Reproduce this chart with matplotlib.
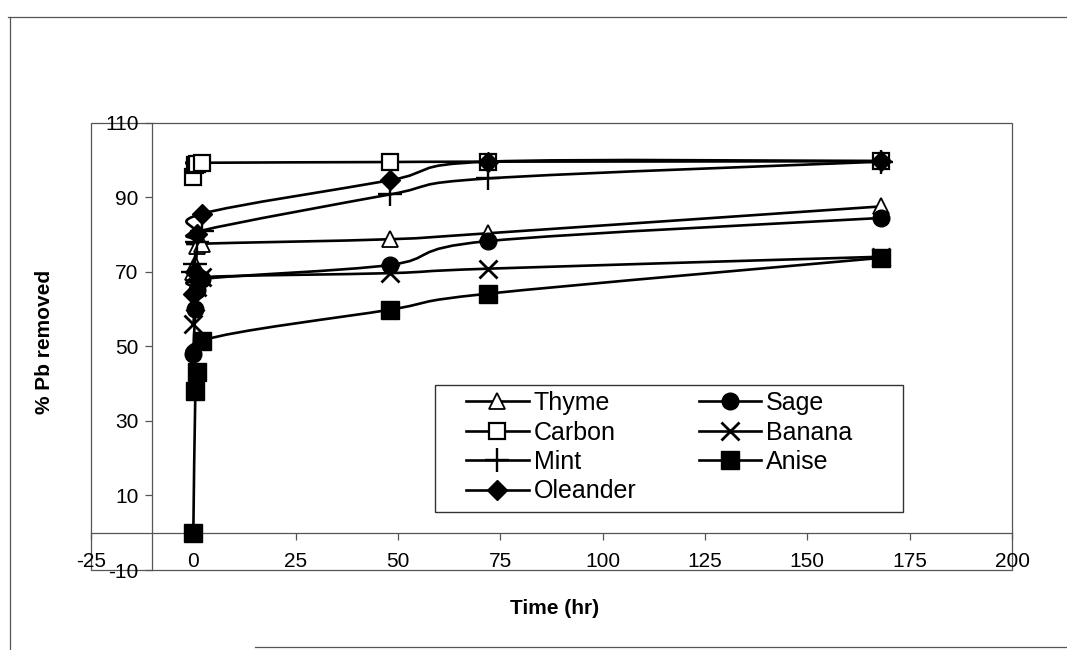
import numpy as np
import matplotlib
matplotlib.use("Agg")
import matplotlib.pyplot as plt
from matplotlib.path import Path
from matplotlib.patches import PathPatch, Rectangle
from matplotlib.lines import Line2D

plt.rcParams['font.family'] = ['Liberation Sans', 'DejaVu Sans']

# ---- data ----
times = [0, 0.5, 1, 2, 48, 72, 168]
thyme = [70, 72, 77, 77.5, 78.7, 80.3, 87.5]
carbon = [95.5, 98.5, 99, 99.2, 99.4, 99.5, 99.6]
mint = [70, 72, 78, 81, 90.7, 95, 99.5]
oleander = [64, 70, 80, 85.5, 94.5, 99.5, 99.7]
sage = [48, 60, 65, 68, 71.8, 78.2, 84.4]
banana = [56, 62, 66, 68.5, 69.6, 70.8, 74]
anise = [0, 38, 43, 51.5, 59.8, 64.1, 73.7]

series_names = ["Thyme", "Carbon", "Mint", "Oleander", "Sage", "Banana", "Anise"]
series_values = [thyme, carbon, mint, oleander, sage, banana, anise]

x_ticks = [-25, 0, 25, 50, 75, 100, 125, 150, 175, 200]
y_ticks = [-10, 10, 30, 50, 70, 90, 110]

# ---- styles ----
styles = {
    "Thyme": dict(marker='^', mfc='white', mec='black', ms=11, mew=1.3),
    "Carbon": dict(marker='s', mfc='white', mec='black', ms=11, mew=1.6),
    "Mint": dict(marker='+', mfc='black', mec='black', ms=17, mew=1.7),
    "Oleander": dict(marker='D', mfc='black', mec='black', ms=10, mew=1),
    "Sage": dict(marker='o', mfc='black', mec='black', ms=12, mew=1),
    "Banana": dict(marker='x', mfc='black', mec='black', ms=13, mew=2),
    "Anise": dict(marker='s', mfc='black', mec='black', ms=12.5, mew=1),
}


def smooth_path(xs, ys):
    pts = np.column_stack([xs, ys]).astype(float)
    n = len(pts)
    verts = [pts[0]]
    codes = [Path.MOVETO]
    for i in range(n - 1):
        p0 = pts[i - 1] if i > 0 else pts[i]
        p1 = pts[i]
        p2 = pts[i + 1]
        p3 = pts[i + 2] if i + 2 < n else pts[i + 1]
        c1 = p1 + (p2 - p0) / 6.0
        c2 = p2 - (p3 - p1) / 6.0
        verts += [c1, c2, p2]
        codes += [Path.CURVE4] * 3
    return Path(verts, codes)


fig = plt.figure(figsize=(10.67, 6.5), dpi=100)
ax = fig.add_axes([91 / 1067, 1 - 570 / 650, (1012 - 91) / 1067, (570 - 122.5) / 650])
ax.set_xlim(-25, 200)
ax.set_ylim(-10, 110)

for name, vals in zip(series_names, series_values):
    patch = PathPatch(smooth_path(times, vals), facecolor='none', edgecolor='black',
                      lw=1.9, zorder=3)
    ax.add_patch(patch)
    ax.plot(times, vals, linestyle='none', zorder=4, **styles[name])

# axes lines: y-axis crosses at x=-10, x-axis crosses at y=0
for s in ['top', 'right']:
    ax.spines[s].set_visible(False)
ax.spines['left'].set_position(('data', -10))
ax.spines['bottom'].set_position(('data', 0))
for s in ['left', 'bottom']:
    ax.spines[s].set_color('#555555')
    ax.spines[s].set_linewidth(0.9)
ax.add_patch(Rectangle((0, 0), 1, 1, transform=ax.transAxes, fill=False,
                       edgecolor='#555555', lw=0.9, clip_on=False, zorder=1))

ax.set_xticks(x_ticks)
ax.set_xticklabels([str(v) for v in x_ticks])
ax.set_yticks(y_ticks)
ax.set_yticklabels([str(v) for v in y_ticks])
ax.tick_params(axis='x', direction='out', length=5, width=0.9, color='#555555',
               labelsize=15, pad=9)
ax.tick_params(axis='y', direction='out', length=5, width=0.9, color='#555555',
               labelsize=15, pad=5)

fig.text(45 / 1067, 1 - 342 / 650, "% Pb removed", rotation=90, ha='center',
         va='center', fontsize=15, fontweight='bold')
fig.text(555 / 1067, 1 - 608 / 650, "Time (hr)", ha='center', va='center',
         fontsize=15, fontweight='bold')

handles = [Line2D([0], [0], color='black', lw=1.9, **styles[n]) for n in series_names]
leg = ax.legend(handles, series_names, ncol=2, loc='upper left',
                bbox_to_anchor=(466 / 1067, 1 - 391 / 650), bbox_transform=fig.transFigure,
                frameon=False, fontsize=18, handlelength=2.5,
                handletextpad=0.2, columnspacing=2.5, labelspacing=0.22,
                borderpad=0, borderaxespad=0)
# legend frame (plot-area legend box)
fig.add_artist(Rectangle((435 / 1067, 1 - 512 / 650), (903 - 435) / 1067, (512 - 385) / 650,
                         transform=fig.transFigure, fill=False, edgecolor='#333333', lw=1.0))

# outer chart border
fig.add_artist(Line2D([8 / 1067, 1.0], [1 - 17 / 650, 1 - 17 / 650], color='#555555', lw=0.9,
                      transform=fig.transFigure))
fig.add_artist(Line2D([10 / 1067, 10 / 1067], [1 - 17 / 650, 0.0], color='#555555', lw=0.9,
                      transform=fig.transFigure))
fig.add_artist(Line2D([255 / 1067, 1.0], [1 - 647 / 650, 1 - 647 / 650], color='#555555', lw=0.9,
                      transform=fig.transFigure))

fig.savefig("out.png", dpi=100)
